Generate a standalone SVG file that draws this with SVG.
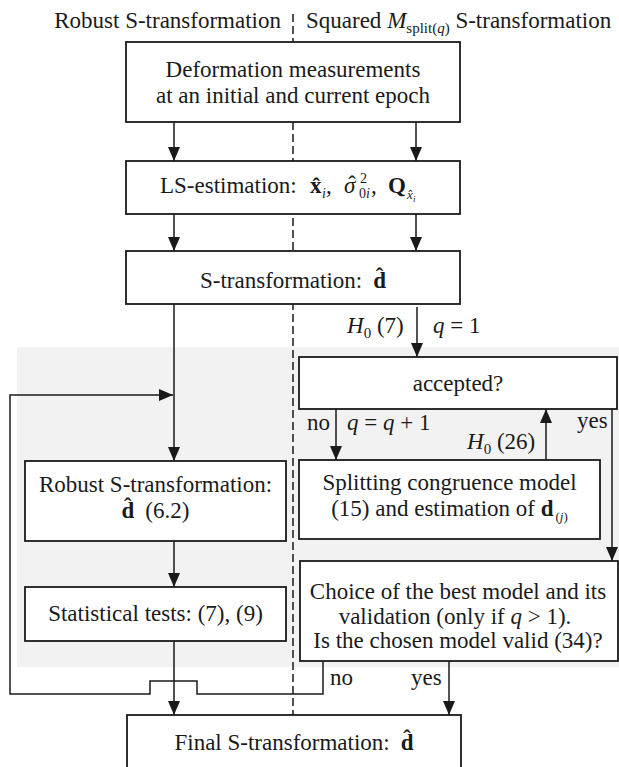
<svg xmlns="http://www.w3.org/2000/svg" width="619" height="767" viewBox="0 0 619 767" font-family="'Liberation Serif', Tinos, 'Times New Roman', serif">
<style>
text{font-family:'Liberation Serif',Tinos,'Times New Roman',serif;font-size:23px;fill:#1a1a1a}
.m{text-anchor:middle}
.b{font-weight:bold}
.i{font-style:italic}
.box{fill:#fff;stroke:#1a1a1a;stroke-width:1.8}
.arr{fill:none;stroke:#1a1a1a;stroke-width:1.5;marker-end:url(#ah)}
.dash{fill:none;stroke:#1a1a1a;stroke-width:1.5;stroke-dasharray:8 4}
</style>
<defs>
<marker id="ah" markerUnits="userSpaceOnUse" markerWidth="14" markerHeight="12" viewBox="0 0 14 12" refX="14" refY="6" orient="auto">
<path d="M0,0 L14,6 L0,12 z" fill="#1a1a1a"/>
</marker>
</defs>
<rect x="0" y="0" width="619" height="767" fill="#fff"/>
<rect id="panel" x="17" y="347" width="602" height="320" fill="#f2f2f2"/>

<g id="titles">
<text x="281" y="28" text-anchor="end">Robust S-transformation</text>
<text x="306" y="28">Squared <tspan class="i">M</tspan><tspan font-size="15" dy="5">split(</tspan><tspan font-size="15" class="i">q</tspan><tspan font-size="15">)</tspan><tspan dy="-5"> S-transformation</tspan></text>
</g>

<g id="connectors">
<line class="dash" x1="293" y1="14" x2="293" y2="715"/>
<line class="arr" x1="174" y1="122" x2="174" y2="161"/>
<line class="arr" x1="416" y1="122" x2="416" y2="161"/>
<line class="arr" x1="174" y1="214" x2="174" y2="251"/>
<line class="arr" x1="416" y1="214" x2="416" y2="251"/>
<line class="arr" x1="174" y1="304" x2="174" y2="461"/>
<line class="arr" x1="417" y1="307" x2="417" y2="357"/>
<line class="arr" x1="336" y1="409" x2="336" y2="460"/>
<line class="arr" x1="546" y1="460" x2="546" y2="409"/>
<line class="arr" x1="612" y1="409" x2="612" y2="561"/>
<line class="arr" x1="174" y1="541" x2="174" y2="587"/>
<line class="arr" x1="174" y1="641" x2="174" y2="715"/>
<line class="arr" x1="449" y1="661" x2="449" y2="715"/>
<polyline class="arr" points="323,661 323,694 197,694 197,681 150,681 150,694 10,694 10,395 173,395"/>
</g>

<g id="n_measure">
<rect class="box" x="126" y="42" width="334" height="80"/>
<text class="m" x="293" y="77">Deformation measurements</text>
<text class="m" x="293" y="103">at an initial and current epoch</text>
</g>

<g id="n_ls">
<rect class="box" x="126" y="161" width="334" height="53"/>
<text x="160" y="193">LS-estimation:<tspan class="b" x="310">x̂</tspan><tspan class="i" font-size="14" x="322" y="198">i</tspan><tspan x="326" y="193">,</tspan><tspan class="i" x="344">σ</tspan><tspan font-size="14" x="360" y="183">2</tspan><tspan font-size="14" x="359" y="198">0</tspan><tspan class="i" font-size="14">i</tspan><tspan x="371" y="193">,</tspan><tspan class="b" x="388">Q</tspan><tspan class="i" font-size="13" x="407" y="199">x̂</tspan><tspan class="i" font-size="9" x="413" y="202">i</tspan><tspan x="348.2" y="192">ˆ</tspan></text>
</g>

<g id="n_strans">
<rect class="box" x="126" y="251" width="334" height="53"/>
<text class="m" x="293" y="288">S-transformation:<tspan class="b" dx="11">d̂</tspan></text>
</g>

<g id="labels_top">
<text x="347" y="333"><tspan class="i">H</tspan><tspan font-size="15" dy="5">0</tspan><tspan dy="-5"> (7)</tspan></text>
<text x="433" y="333"><tspan class="i">q</tspan> = 1</text>
</g>

<g id="n_accepted">
<rect class="box" x="299" y="357" width="318" height="52"/>
<text class="m" x="458" y="391">accepted?</text>
</g>

<g id="labels_mid">
<text x="307" y="430">no</text>
<text x="347" y="430"><tspan class="i">q</tspan> = <tspan class="i">q</tspan> + 1</text>
<text x="467" y="449"><tspan class="i">H</tspan><tspan font-size="15" dy="5">0</tspan><tspan dy="-5"> (26)</tspan></text>
<text x="577" y="428">yes</text>
</g>

<g id="n_robust">
<rect class="box" x="25" y="461" width="261" height="80"/>
<text class="m" x="155.5" y="492">Robust S-transformation:</text>
<text class="m" x="155.5" y="518"><tspan class="b">d̂</tspan><tspan dx="11">(6.2)</tspan></text>
</g>

<g id="n_split">
<rect class="box" x="299" y="460" width="301" height="79"/>
<text class="m" x="449.5" y="490">Splitting congruence model</text>
<text class="m" x="449.5" y="516">(15) and estimation of <tspan class="b">d</tspan><tspan font-size="13" dy="5" dx="2">(</tspan><tspan font-size="13" class="i">j</tspan><tspan font-size="13">)</tspan></text>
</g>

<g id="n_stat">
<rect class="box" x="25" y="587" width="261" height="54"/>
<text class="m" x="155.5" y="621">Statistical tests: (7), (9)</text>
</g>

<g id="n_choice">
<rect class="box" x="300" y="561" width="318" height="100"/>
<text class="m" x="458" y="599">Choice of the best model and its</text>
<text class="m" x="455" y="624">validation (only if <tspan class="i">q</tspan> &gt; 1).</text>
<text class="m" x="458" y="648">Is the chosen model valid (34)?</text>
</g>

<g id="labels_bottom">
<text x="330" y="685">no</text>
<text x="411" y="685">yes</text>
</g>

<g id="n_final">
<rect class="box" x="127" y="715" width="334" height="70"/>
<text class="m" x="294" y="750">Final S-transformation:<tspan class="b" dx="11">d̂</tspan></text>
</g>
</svg>
